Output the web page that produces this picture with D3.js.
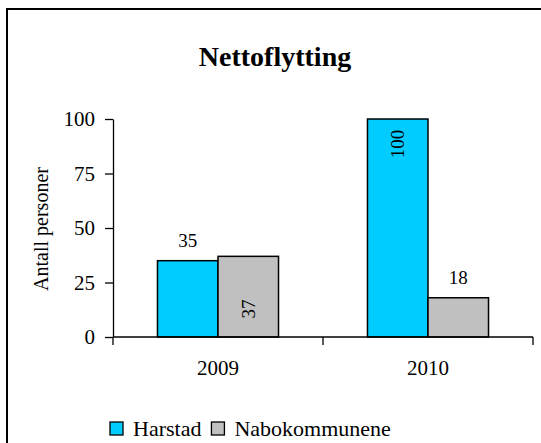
<!DOCTYPE html>
<html>
<head>
<meta charset="utf-8">
<script src="https://cdn.jsdelivr.net/npm/d3@7"></script>
<style>
body { margin: 0; background: #fff; }
svg text { font-family: "Liberation Serif", "Times New Roman", serif !important; fill: #000; }
</style>
</head>
<body>
<svg width="541" height="443"></svg>
<script>
// data
const years = ["2009", "2010"];
const series = ["Harstad", "Nabokommunene"];
const harstad = [35, 100];
const nabokommunene = [37, 18];
const yTicks = [0, 25, 50, 75, 100];

const colors = d3.scaleOrdinal().domain(series).range(["#00ccff", "#c0c0c0"]);
// how each value label sits (same order as years x series)
const labelPlace = [["above", "base"], ["top", "above"]];
const serif = "'Liberation Serif', 'Times New Roman', serif";

const svg = d3.select("svg");

// frame (runs past right and bottom edge)
svg.append("rect")
	.attr("x", 7).attr("y", 9)
	.attr("width", 600).attr("height", 500)
	.attr("fill", "none").attr("stroke", "#000").attr("stroke-width", 2);

var x0 = d3.scaleBand().domain(years).range([113, 533]).padding(0);
var x1 = d3.scaleBand().domain(series).range([0, x0.bandwidth()]).paddingInner(0).paddingOuter(0.735);
var y = d3.scaleLinear().domain([0, 100]).range([337, 119]);

// title
svg.append("text")
	.attr("x", 275).attr("y", 66)
	.attr("text-anchor", "middle")
	.style("font-family", serif)
	.style("font-size", "28px").style("font-weight", "bold")
	.text("Nettoflytting");

// y axis
var yAxis = svg.append("g")
	.attr("transform", "translate(113,0)")
	.call(d3.axisLeft(y).tickValues(yTicks).tickSize(8).tickSizeOuter(0).tickPadding(10));
yAxis.attr("font-family", serif);
yAxis.select(".domain").attr("stroke", "#000").attr("stroke-width", 1.3);
yAxis.selectAll(".tick line").attr("stroke", "#000").attr("stroke-width", 1.3);
yAxis.selectAll(".tick text")
	.style("font-size", "21px")
	.style("font-family", serif)
	.attr("fill", "#000");

svg.append("text")
	.attr("transform", "translate(41,229) rotate(-90)")
	.attr("text-anchor", "middle")
	.attr("dominant-baseline", "central")
	.style("font-family", serif)
	.style("font-size", "20px")
	.text("Antall personer");

// bars
var rows = years.map((yr, i) => ({ year: yr, values: [harstad[i], nabokommunene[i]], i: i }));

var group = svg.selectAll(".grp")
	.data(rows)
	.enter()
	.append("g")
	.attr("class", "grp")
	.attr("transform", d => "translate(" + x0(d.year) + ",0)");

group.selectAll("rect")
	.data(d => d.values.map((v, j) => ({ s: series[j], v: v, place: labelPlace[d.i][j] })))
	.enter()
	.append("rect")
	.attr("x", d => x1(d.s))
	.attr("y", d => y(d.v))
	.attr("width", x1.bandwidth())
	.attr("height", d => y(0) - y(d.v))
	.attr("fill", d => colors(d.s))
	.attr("stroke", "#000")
	.attr("stroke-width", 1.5);

group.selectAll(".lbl")
	.data(d => d.values.map((v, j) => ({ s: series[j], v: v, place: labelPlace[d.i][j] })))
	.enter()
	.append("text")
	.attr("class", "lbl")
	.style("font-family", serif)
	.style("font-size", "19px")
	.attr("text-anchor", "middle")
	.attr("dominant-baseline", d => d.place === "above" ? null : "central")
	.attr("transform", d => {
		var cx = x1(d.s) + x1.bandwidth() / 2;
		if (d.place === "above") return "translate(" + cx + "," + (y(d.v) - 14) + ")";
		if (d.place === "base") return "translate(" + cx + "," + (y(0) - 28) + ") rotate(-90)";
		return "translate(" + cx + "," + (y(d.v) + 25) + ") rotate(-90)";
	})
	.text(d => d.v);

// x axis
svg.append("line")
	.attr("x1", x0.range()[0]).attr("x2", x0.range()[1])
	.attr("y1", y(0)).attr("y2", y(0))
	.attr("stroke", "#000").attr("stroke-width", 1.3);
var edges = years.map(d => x0(d)).concat([x0.range()[1]]);
svg.selectAll(".xtick")
	.data(edges)
	.enter()
	.append("line")
	.attr("class", "xtick")
	.attr("x1", d => d).attr("x2", d => d)
	.attr("y1", y(0)).attr("y2", y(0) + 8)
	.attr("stroke", "#000").attr("stroke-width", 1.3);
svg.selectAll(".xlbl")
	.data(years)
	.enter()
	.append("text")
	.attr("class", "xlbl")
	.attr("x", d => x0(d) + x0.bandwidth() / 2)
	.attr("y", 375)
	.attr("text-anchor", "middle")
	.style("font-family", serif)
	.style("font-size", "21px")
	.text(d => d);

// legend
var legend = svg.append("g").attr("transform", "translate(110,422)");
var lx = 0;
series.forEach((s, i) => {
	legend.append("rect")
		.attr("x", lx).attr("y", 0)
		.attr("width", 13).attr("height", 13)
		.attr("fill", colors(s))
		.attr("stroke", "#000").attr("stroke-width", 1.3);
	var t = legend.append("text")
		.attr("x", lx + 23).attr("y", 13.5)
		.style("font-family", serif)
		.style("font-size", "22px")
		.text(s);
	lx += 23 + t.node().getComputedTextLength() + 10;
});
</script>
</body>
</html>
